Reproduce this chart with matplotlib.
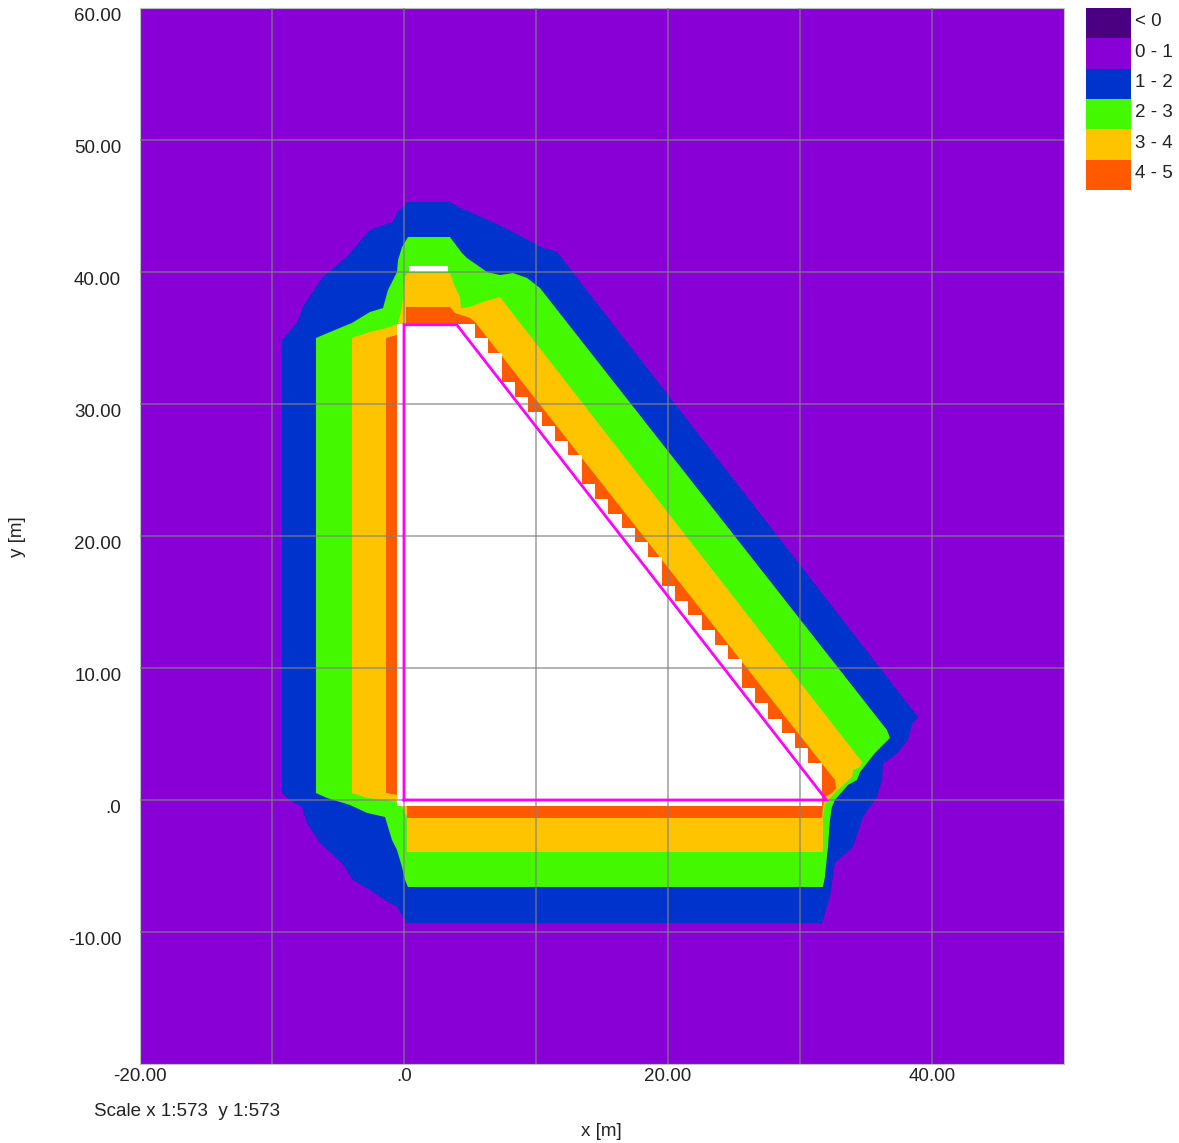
import matplotlib
matplotlib.use('Agg')
import matplotlib.pyplot as plt
from matplotlib.patches import Polygon, Rectangle

plt.rcParams['font.family'] = ['Liberation Sans', 'DejaVu Sans']

# ---------------- data ----------------
level_labels = ["< 0", "0 - 1", "1 - 2", "2 - 3", "3 - 4", "4 - 5"]
level_colors = ["#4B0082", "#8800D6", "#0033CC", "#44F800", "#FFC400", "#FF5A00"]

# outline of region with value >= 1
blue_x = [0.30, 3.48, 4.24, 5.00, 7.50, 10.53, 11.59, 38.94, 38.48, 38.18, 37.58, 37.05, 36.29,
          36.21, 35.83, 34.77, 34.02, 32.65, 32.27, 31.67, 0.23, -0.08, -0.53, -1.21, -2.58,
          -3.86, -4.70, -6.36, -7.35, -7.73, -8.64, -9.24, -9.24, -8.11, -7.65, -6.14, -4.32,
          -2.58, -0.83, -0.53]
blue_y = [45.30, 45.30, 44.85, 44.55, 43.41, 41.82, 41.52, 6.29, 5.68, 4.55, 3.79, 3.26, 2.80,
          1.52, 0.23, -1.29, -3.56, -4.77, -7.35, -9.32, -9.32, -8.86, -8.11, -7.73, -6.82,
          -6.06, -4.77, -3.26, -1.74, -0.53, 0.00, 0.53, 34.85, 36.14, 37.35, 39.62, 41.14,
          43.18, 43.79, 44.47]

# outline of region with value >= 2
green_x = [0.30, 3.48, 4.39, 4.77, 6.29, 7.27, 8.26, 9.32, 10.30, 36.59, 36.82, 36.29, 35.68,
           35.15, 34.55, 34.32, 33.64, 33.18, 32.65, 32.42, 32.27, 32.12, 31.89, 31.74, 0.30,
           0.08, -0.15, -0.53, -0.91, -1.21, -1.44, -2.80, -4.09, -5.83, -6.67, -6.67, -5.61,
           -3.94, -2.58, -1.59, -1.21, -0.53, -0.45, -0.15]
green_y = [42.65, 42.65, 41.44, 41.06, 40.00, 39.77, 39.92, 39.55, 38.79, 5.30, 4.70, 4.17, 3.56,
           2.88, 2.12, 1.52, 1.14, 0.61, 0.00, -0.53, -1.52, -3.56, -5.83, -6.59, -6.59,
           -6.06, -5.08, -3.79, -3.03, -2.05, -1.29, -0.98, -0.38, 0.15, 0.53, 35.00, 35.45,
           36.14, 36.97, 37.27, 38.64, 40.00, 40.91, 41.89]

# outline of region with value >= 3
yellow_x = [0.23, 3.48, 3.86, 4.24, 4.32, 5.00, 5.98, 7.27, 8.03, 34.70, 34.55, 34.02, 33.94,
            33.03, 32.50, 32.12, 31.89, 31.74, 31.74, 0.23, 0.23, -0.15, -0.53, -1.29, -2.80,
            -3.94, -3.94, -2.58, -1.29, -0.45, -0.15, 0.08]
yellow_y = [39.92, 39.92, 38.86, 38.11, 37.27, 37.35, 37.73, 38.11, 37.12, 2.88, 2.50, 2.27, 1.74,
            0.91, 0.38, 0.00, -0.38, -1.29, -3.94, -3.94, -1.29, -0.53, -0.15, 0.00, 0.15,
            0.53, 35.00, 35.45, 35.76, 36.06, 37.35, 39.62]

# outline of region with value >= 4 (top, slope and bottom)
orange_x = [0.15, 3.48, 3.86, 5.00, 5.38, 32.05, 32.65, 32.73, 32.42, 31.89, 31.74, 31.67,
            0.23, 0.23, 0.15]
orange_y = [37.35, 37.35, 36.89, 36.52, 36.21, 2.27, 1.52, 0.91, 0.53, 0.23, -0.45, -1.36,
            -1.36, -0.45, -0.45]
# left strip with value >= 4
orange_left_x = [-1.36, -0.53, -0.53, -1.36]
orange_left_y = [35.00, 35.23, 0.38, 0.53]

# blank (no value) cells inside the building: stair along the slope
blank_left, blank_top, blank_bottom = -0.53, 36.06, -0.45
stair_x = [5.38, 6.39, 7.40, 8.41, 9.42, 10.43, 11.44, 12.45, 13.46, 14.47, 15.48, 16.49, 17.50,
           18.51, 19.52, 20.53, 21.54, 22.55, 23.56, 24.57, 25.58, 26.59, 27.60, 28.61, 29.62,
           30.63, 31.64]
stair_top = [34.97, 33.84, 31.70, 30.56, 29.42, 28.30, 27.20, 26.10, 23.92, 22.80, 21.68, 20.60,
             19.51, 18.44, 16.20, 15.08, 13.98, 12.88, 11.76, 10.67, 8.45, 7.35, 6.15, 5.05,
             3.95, 2.78]
# small blank notch at the top
notch_x = [0.38, 3.33, 3.33, 0.38]
notch_y = [40.45, 40.45, 40.00, 40.00]

# building outline
bld_x = [0, 0, 4, 32, 0]
bld_y = [0, 36, 36, 0, 0]

xticks = [-20, 0, 20, 40]
xtick_labels = ["-20.00", ".0", "20.00", "40.00"]
yticks = [60, 50, 40, 30, 20, 10, 0, -10]
ytick_labels = ["60.00", "50.00", "40.00", "30.00", "20.00", "10.00", ".0", "-10.00"]

# ---------------- figure ----------------
W, H = 1179, 1143
FS = 13.5
TXT = "#222222"
fig = plt.figure(figsize=(W / 100, H / 100), dpi=100)
ax = fig.add_axes([140 / W, (H - 1064) / H, 924 / W, 1056 / H])
ax.set_xlim(-20, 50)
ax.set_ylim(-20, 60)
ax.set_facecolor(level_colors[1])

def poly(xs, ys, color, z):
    ax.add_patch(Polygon(list(zip(xs, ys)), closed=True, facecolor=color,
                         edgecolor='none', zorder=z))

poly(blue_x, blue_y, level_colors[2], 1)
poly(green_x, green_y, level_colors[3], 2)
poly(yellow_x, yellow_y, level_colors[4], 3)
poly(orange_x, orange_y, level_colors[5], 4)
poly(orange_left_x, orange_left_y, level_colors[5], 4)

wx = [blank_left, stair_x[0]]
wy = [blank_top, blank_top]
for i in range(len(stair_top)):
    wx += [stair_x[i], stair_x[i + 1]]
    wy += [stair_top[i], stair_top[i]]
wx += [stair_x[-1], blank_left]
wy += [blank_bottom, blank_bottom]
poly(wx, wy, "white", 5)
poly(notch_x, notch_y, "white", 5)

ax.plot(bld_x, bld_y, color="#FF00FF", lw=2.0, zorder=7, solid_joinstyle='miter')

# grid
for gx in range(-10, 50, 10):
    ax.axvline(gx, color="#808080", lw=1.2, alpha=0.7, zorder=6)
for gy in range(-10, 60, 10):
    ax.axhline(gy, color="#808080", lw=1.2, alpha=0.7, zorder=6)

ax.set_xticks(xticks)
ax.set_xticklabels(xtick_labels, fontsize=FS, color=TXT)
ax.set_yticks(yticks)
ax.set_yticklabels(ytick_labels, fontsize=FS, color=TXT)
ax.tick_params(axis='both', length=0)
ax.tick_params(axis='y', pad=13.5)
ax.tick_params(axis='x', pad=3)
for lab in ax.get_yticklabels():
    lab.set_verticalalignment('top')
for s in ax.spines.values():
    s.set_color("#c0c0c0")
    s.set_linewidth(0.8)

fig.text(18 / W, 1 - 537 / H, "y [m]", rotation=90, ha='center', va='center', fontsize=FS,
         color=TXT)
fig.text(601 / W, 1 - 1131 / H, "x [m]", ha='center', va='center', fontsize=FS, color=TXT)
fig.text(94 / W, 1 - 1111 / H, "Scale x 1:573  y 1:573", ha='left', va='center', fontsize=FS,
         color=TXT)

# legend
lax = fig.add_axes([0, 0, 1, 1], facecolor='none')
lax.set_xlim(0, W)
lax.set_ylim(H, 0)
lax.axis('off')
for i, (lab, col) in enumerate(zip(level_labels, level_colors)):
    y0 = 8 + i * 30.3
    lax.add_patch(Rectangle((1086, y0), 45, 30.3, facecolor=col, edgecolor='none'))
    lax.text(1135, y0 + 14, lab, ha='left', va='center', fontsize=FS, color=TXT)

fig.savefig("out.png", dpi=100)
